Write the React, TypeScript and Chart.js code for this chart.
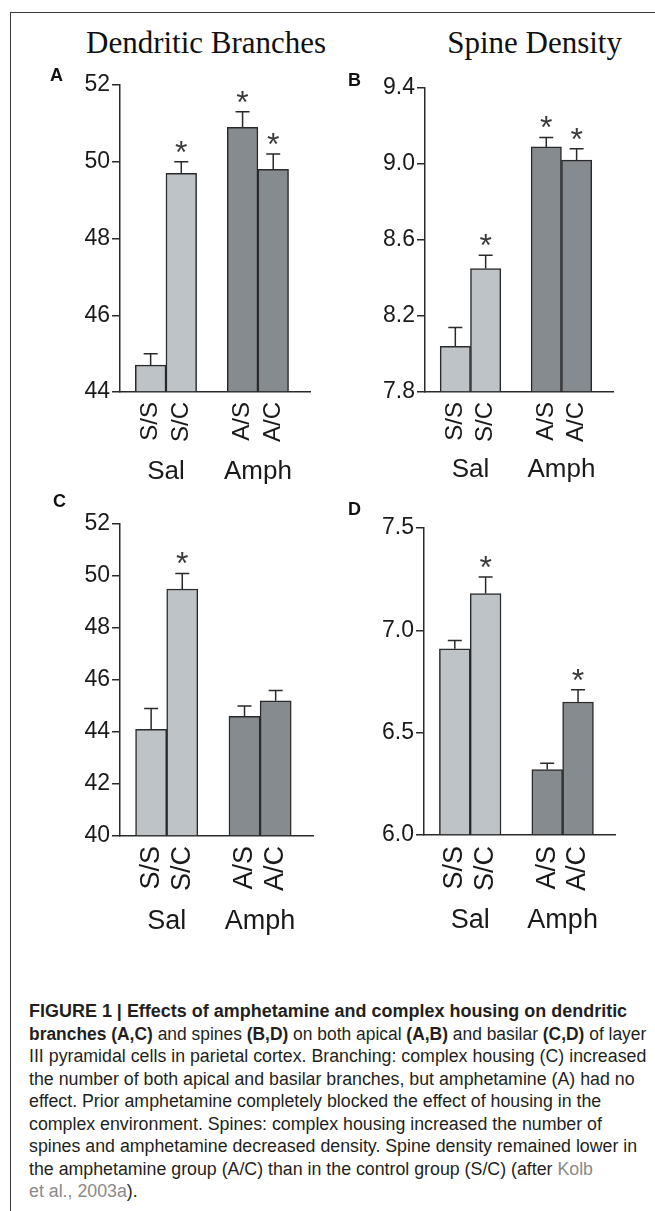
import React, { useEffect, useLayoutEffect, useRef, useState } from "react";
import { Chart, registerables } from "chart.js";

Chart.register(...registerables);

// ---------- data ----------
const groupNames = ["S/S", "S/C", "A/S", "A/C"];
const groupPositions = [1, 2, 4, 5];
const treatmentLabels = ["Sal", "Amph"];
const treatmentPositions = [1.5, 4.5];

const apicalBranchMeans = [44.7, 49.7, 50.9, 49.8];
const apicalBranchSem = [0.3, 0.3, 0.4, 0.4];
const apicalBranchSig = [false, true, true, true];
const apicalBranchTicks = [44, 46, 48, 50, 52];

const apicalSpineMeans = [8.04, 8.45, 9.09, 9.02];
const apicalSpineSem = [0.1, 0.07, 0.05, 0.06];
const apicalSpineSig = [false, true, true, true];
const apicalSpineTicks = [7.8, 8.2, 8.6, 9.0, 9.4];

const basilarBranchMeans = [44.1, 49.5, 44.6, 45.2];
const basilarBranchSem = [0.8, 0.6, 0.4, 0.4];
const basilarBranchSig = [false, true, false, false];
const basilarBranchTicks = [40, 42, 44, 46, 48, 50, 52];

const basilarSpineMeans = [6.91, 7.18, 6.32, 6.65];
const basilarSpineSem = [0.04, 0.08, 0.03, 0.06];
const basilarSpineSig = [false, true, false, true];
const basilarSpineTicks = [6.0, 6.5, 7.0, 7.5];

// ---------- style ----------
const LIGHT = "#bec3c7";
const DARK = "#868b90";
const groupColors = [LIGHT, LIGHT, DARK, DARK];
const INK = "#2a2a2a";
const SANS = "'Liberation Sans', Arial, Helvetica, sans-serif";
const SERIF = "'Liberation Serif', 'Times New Roman', serif";
const X_MIN = 0;
const X_MAX = 6.2;

type PanelProps = {
  left: number;
  top: number;
  width: number;
  plotHeight: number;
  means: number[];
  sem: number[];
  sig: boolean[];
  ticks: number[];
  decimals: number;
  tickFont: number;
  labelFont: number;
  groupFont: number;
  axis1H: number;
  axis2H: number;
  labelPad: number;
  groupPad: number;
};

const PAD_TOP = 20;
const PAD_RIGHT = 10;
const Y_AXIS_W = 80;

function Panel(p: PanelProps) {
  const ref = useRef<HTMLCanvasElement>(null);
  const height = PAD_TOP + p.plotHeight + p.axis1H + p.axis2H;

  useEffect(() => {
    const canvas = ref.current;
    if (!canvas) return;
    const yMin = p.ticks[0];
    const yMax = p.ticks[p.ticks.length - 1];

    const errorBars = {
      id: "errorBars",
      afterDatasetsDraw(chart: any) {
        const meta = chart.getDatasetMeta(0);
        const yScale = chart.scales.y;
        const ctx = chart.ctx;
        ctx.save();
        ctx.strokeStyle = INK;
        ctx.lineWidth = 1.5;
        ctx.fillStyle = "#3a3a3a";
        ctx.font = `32px ${SANS}`;
        ctx.textAlign = "center";
        ctx.textBaseline = "alphabetic";
        meta.data.forEach((bar: any, i: number) => {
          const x = bar.x;
          const topPx = yScale.getPixelForValue(p.means[i] + p.sem[i]);
          ctx.beginPath();
          ctx.moveTo(x, bar.y);
          ctx.lineTo(x, topPx);
          ctx.moveTo(x - 7, topPx);
          ctx.lineTo(x + 7, topPx);
          ctx.stroke();
          if (p.sig[i]) {
            ctx.fillText("*", x, topPx + 1);
          }
        });
        ctx.restore();
      },
    };

    const chart = new Chart(canvas, {
      type: "bar",
      data: {
        datasets: [
          {
            data: groupPositions.map((x, i) => ({ x, y: p.means[i] })),
            backgroundColor: groupColors,
            borderColor: INK,
            borderWidth: 1.5,
            base: yMin,
            barPercentage: 1,
            categoryPercentage: 1,
          } as any,
        ],
      },
      options: {
        animation: false,
        responsive: false,
        events: [],
        layout: { padding: { top: PAD_TOP, right: PAD_RIGHT, left: 0, bottom: 0 } },
        plugins: {
          legend: { display: false },
          tooltip: { enabled: false },
        },
        scales: {
          x: {
            type: "linear",
            position: "bottom",
            offset: false,
            min: X_MIN,
            max: X_MAX,
            grid: { display: false, drawTicks: false, offset: false },
            border: { display: true, color: INK, width: 1.5 },
            ticks: {
              autoSkip: false,
              minRotation: 90,
              maxRotation: 90,
              padding: p.labelPad,
              color: "#1a1a1a",
              font: { family: SANS, size: p.labelFont },
              callback: (_v: any, i: number) => groupNames[i],
            },
            afterBuildTicks: (s: any) => {
              s.ticks = groupPositions.map((v) => ({ value: v }));
            },
            afterFit: (s: any) => {
              s.height = p.axis1H;
            },
          },
          x2: {
            type: "linear",
            position: "bottom",
            offset: false,
            min: X_MIN,
            max: X_MAX,
            grid: { display: false, drawTicks: false, offset: false },
            border: { display: false },
            ticks: {
              autoSkip: false,
              minRotation: 0,
              maxRotation: 0,
              padding: p.groupPad,
              color: "#1a1a1a",
              font: { family: SANS, size: p.groupFont },
              callback: (_v: any, i: number) => treatmentLabels[i],
            },
            afterBuildTicks: (s: any) => {
              s.ticks = treatmentPositions.map((v) => ({ value: v }));
            },
            afterFit: (s: any) => {
              s.height = p.axis2H;
            },
          },
          y: {
            type: "linear",
            position: "left",
            min: yMin,
            max: yMax,
            grid: {
              display: true,
              drawOnChartArea: false,
              drawTicks: true,
              tickLength: 8,
              color: INK,
              lineWidth: 1.5,
            },
            border: { display: true, color: INK, width: 1.5 },
            ticks: {
              padding: 2,
              color: "#1a1a1a",
              font: { family: SANS, size: p.tickFont },
              callback: (v: any) => Number(v).toFixed(p.decimals),
            },
            afterBuildTicks: (s: any) => {
              s.ticks = p.ticks.map((v) => ({ value: v }));
            },
            afterFit: (s: any) => {
              s.width = Y_AXIS_W;
            },
          },
        },
      } as any,
      plugins: [errorBars],
    });
    return () => chart.destroy();
  }, []);

  return (
    <canvas
      ref={ref}
      width={p.width}
      height={height}
      style={{ position: "absolute", left: p.left, top: p.top, width: p.width, height }}
    />
  );
}

function Letter({ ch, left, baseline }: { ch: string; left: number; baseline: number }) {
  return (
    <div
      style={{
        position: "absolute",
        left,
        top: baseline - 15.2,
        fontFamily: SANS,
        fontWeight: 700,
        fontSize: 18,
        lineHeight: "18px",
        color: "#111",
      }}
    >
      {ch}
    </div>
  );
}

const captionColor = "#231f20";
const linkColor = "#8a8a8a";

// target widths (px) used to fit the condensed caption face
const captionBoldTargets = [598, 617];
const captionPlainTarget = 617;

export default function App() {
  const capRef = useRef<HTMLDivElement>(null);
  const [ks, setKs] = useState<number[]>([0.88, 0.88, 0.88]);

  useLayoutEffect(() => {
    const root = capRef.current;
    if (root) {
      const l0 = root.querySelector("[data-l='0']") as HTMLElement | null;
      const l1 = root.querySelector("[data-l='1']") as HTMLElement | null;
      const l2 = root.querySelector("[data-l='2']") as HTMLElement | null;
      if (l0 && l1 && l2 && l0.offsetWidth && l1.offsetWidth && l2.offsetWidth) {
        setKs([
          captionBoldTargets[0] / l0.offsetWidth,
          captionBoldTargets[1] / l1.offsetWidth,
          captionPlainTarget / l2.offsetWidth,
        ]);
      }
    }
  }, []);

  const lineStyle = (i: number, k: number): React.CSSProperties => ({
    position: "absolute",
    left: 0,
    top: i * 22.5,
    whiteSpace: "nowrap",
    transform: `scaleX(${k})`,
    transformOrigin: "0 0",
    display: "inline-block",
  });

  const titleBase: React.CSSProperties = {
    position: "absolute",
    top: 27,
    fontFamily: SERIF,
    fontSize: 31,
    lineHeight: "31px",
    color: "#111",
    whiteSpace: "nowrap",
  };

  return (
    <div
      style={{
        position: "absolute",
        left: 0,
        top: 0,
        width: 655,
        height: 1211,
        overflow: "hidden",
        background: "#fff",
      }}
    >
      <div
        style={{
          position: "absolute",
          left: 10,
          top: 12,
          width: 700,
          height: 1300,
          borderLeft: "1px solid #3a3a3a",
          borderTop: "1px solid #3a3a3a",
        }}
      />
      <div style={{ ...titleBase, left: 86 }}>Dendritic Branches</div>
      <div style={{ ...titleBase, right: 33 }}>Spine Density</div>

      <Panel
        left={40}
        top={65}
        width={280}
        plotHeight={307}
        means={apicalBranchMeans}
        sem={apicalBranchSem}
        sig={apicalBranchSig}
        ticks={apicalBranchTicks}
        decimals={0}
        tickFont={23}
        labelFont={24}
        groupFont={26}
        axis1H={52}
        axis2H={44}
        labelPad={10}
        groupPad={12}
      />
      <Panel
        left={345}
        top={68}
        width={278}
        plotHeight={304}
        means={apicalSpineMeans}
        sem={apicalSpineSem}
        sig={apicalSpineSig}
        ticks={apicalSpineTicks}
        decimals={1}
        tickFont={23}
        labelFont={24}
        groupFont={26}
        axis1H={52}
        axis2H={44}
        labelPad={10}
        groupPad={10}
      />
      <Panel
        left={40}
        top={504}
        width={283}
        plotHeight={312}
        means={basilarBranchMeans}
        sem={basilarBranchSem}
        sig={basilarBranchSig}
        ticks={basilarBranchTicks}
        decimals={0}
        tickFont={23}
        labelFont={27}
        groupFont={27}
        axis1H={62}
        axis2H={50}
        labelPad={10}
        groupPad={7}
      />
      <Panel
        left={344}
        top={508}
        width={281}
        plotHeight={307}
        means={basilarSpineMeans}
        sem={basilarSpineSem}
        sig={basilarSpineSig}
        ticks={basilarSpineTicks}
        decimals={1}
        tickFont={23}
        labelFont={27}
        groupFont={27}
        axis1H={62}
        axis2H={50}
        labelPad={11}
        groupPad={7}
      />

      <Letter ch="A" left={50} baseline={81} />
      <Letter ch="B" left={348} baseline={86} />
      <Letter ch="C" left={53} baseline={507} />
      <Letter ch="D" left={348} baseline={515} />

      <div
        ref={capRef}
        style={{
          position: "absolute",
          left: 29,
          top: 1000,
          width: 640,
          height: 220,
          fontFamily: SANS,
          fontSize: 18,
          lineHeight: "22.5px",
          color: captionColor,
        }}
      >
        <span data-l="0" style={lineStyle(0, ks[0])}>
          <b>FIGURE 1 | Effects of amphetamine and complex housing on dendritic</b>
        </span>
        <span data-l="1" style={lineStyle(1, ks[1])}>
          <b>branches (A,C)</b> and spines <b>(B,D)</b> on both apical <b>(A,B)</b> and basilar{" "}
          <b>(C,D)</b> of layer
        </span>
        <span data-l="2" style={lineStyle(2, ks[2])}>
          III pyramidal cells in parietal cortex. Branching: complex housing (C) increased
        </span>
        <span style={lineStyle(3, ks[2])}>
          the number of both apical and basilar branches, but amphetamine (A) had no
        </span>
        <span style={lineStyle(4, ks[2])}>
          effect. Prior amphetamine completely blocked the effect of housing in the
        </span>
        <span style={lineStyle(5, ks[2])}>
          complex environment. Spines: complex housing increased the number of
        </span>
        <span style={lineStyle(6, ks[2])}>
          spines and amphetamine decreased density. Spine density remained lower in
        </span>
        <span style={lineStyle(7, ks[2])}>
          the amphetamine group (A/C) than in the control group (S/C) (after{" "}
          <span style={{ color: linkColor }}>Kolb</span>
        </span>
        <span style={lineStyle(8, ks[2])}>
          <span style={{ color: linkColor }}>et al., 2003a</span>).
        </span>
      </div>
    </div>
  );
}
